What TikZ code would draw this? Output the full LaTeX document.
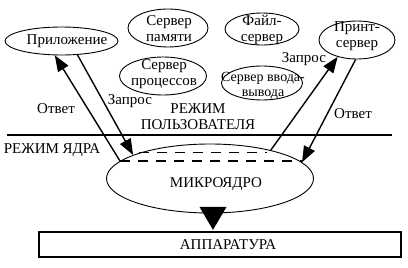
\documentclass[tikz,border=0pt]{standalone}
\usepackage{fontspec}
\setmainfont{Liberation Serif}
\usetikzlibrary{arrows.meta,shapes.geometric,calc}
\begin{document}
\begin{tikzpicture}[x=1pt,y=-1pt,
  every node/.style={font=\fontsize{15}{16}\selectfont},
  srv/.style={ellipse, draw, line width=0.9pt, inner sep=0pt},
  txt/.style={align=center, inner sep=0pt},
  conn/.style={line width=1.4pt, -{Triangle[length=16pt,width=12pt]}},
]
\useasboundingbox[fill=white] (0,0) rectangle (408,268);
% server ellipses
\node[srv, minimum width=113pt, minimum height=28pt] (app) at (61.5,41) {};
\node[srv, minimum width=80pt, minimum height=38pt] (mem) at (168,28) {};
\node[srv, minimum width=87pt, minimum height=38pt] (proc) at (163,76) {};
\node[srv, minimum width=74pt, minimum height=32pt] (file) at (262,29) {};
\node[srv, minimum width=76pt, minimum height=38pt] (prn) at (357,40) {};
\node[srv, minimum width=81pt, minimum height=34pt] (io) at (262,83) {};
% texts inside
\node[txt] (appt) at (67,41) {Приложение};
\node[txt] (memt) at (169,29) {Сервер\\памяти};
\node[txt] (proct) at (164,74) {Сервер\\процессов};
\node[txt] (filet) at (262,30) {Файл-\\сервер};
\node[txt] (prnt) at (357,36) {Принт-\\сервер};
\node[txt, font=\fontsize{14}{15}\selectfont] (iot) at (263,86) {Сервер ввода-\\вывода};
% microkernel
\node[srv, minimum width=207pt, minimum height=69pt] (micro) at (210,178.5) {};
\node[txt] (microt) at (216,184) {МИКРОЯДРО};
% hardware
\node[draw, line width=2.2pt, inner sep=0pt, minimum width=362pt, minimum height=25pt] (hw) at (220,244.5) {};
\node[txt] (hwt) at (228,245) {АППАРАТУРА};
% mode separator
\coordinate (sepL) at (7,135);
\coordinate (sepR) at (392,135);
\draw[line width=2pt] (sepL) -- (sepR);
\node[txt] (user) at (198,117) {РЕЖИМ\\ПОЛЬЗОВАТЕЛЯ};
\node[txt] (kern) at (52,150) {РЕЖИМ ЯДРА};
% dashed lines in microkernel
\draw[line width=1pt, dash pattern=on 10pt off 8pt] (micro.160) -- ++(128,0);
\draw[line width=1.5pt, dash pattern=on 10pt off 8pt] (micro.169) -- (micro.169 -| micro.10);
% connectors
\draw[conn] (micro.169) -- (app.245);
\draw[conn] (app.319) -- (micro.163);
\draw[conn] (micro.25) -- (prn.221);
\draw[conn] (prn.266) -- (micro.10);
\node[txt] (l1) at (56,109) {Ответ};
\node[txt] (l2) at (130,101) {Запрос};
\node[txt] (l3) at (304,59) {Запрос};
\node[txt] (l4) at (353,114) {Ответ};
% arrow to hardware
\coordinate (tip) at ($(hw.north)+(-7,-1)$);
\fill (tip) -- ++(-13.5,-23) -- ++(27,0) -- cycle;
\end{tikzpicture}
\end{document}
